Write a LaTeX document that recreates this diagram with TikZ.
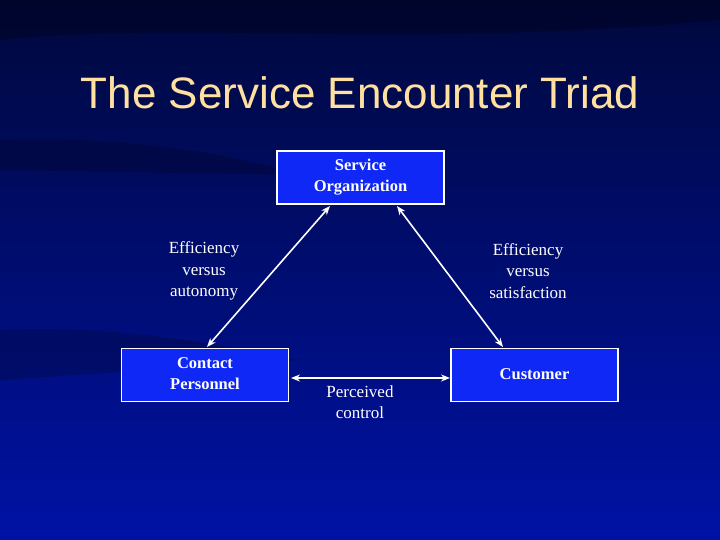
\documentclass[tikz,border=0pt]{standalone}
\usepackage{fontspec}
\usetikzlibrary{arrows.meta}
\setmainfont{Liberation Serif}
\newfontfamily\titlefont{Liberation Sans}
\begin{document}
\begin{tikzpicture}[x=1pt,y=-1pt,
  box/.style={draw=white,line width=1.5pt,fill={rgb,255:red,16;green,40;blue,245},text=white,minimum width=167pt,minimum height=53pt,inner sep=0pt},
  lbl/.style={text=white,align=center,font=\fontsize{17}{21.5}\selectfont},
  blbl/.style={lbl,font=\bfseries\fontsize{16.5}{21}\selectfont},
  conn/.style={draw=white,line width=1.6pt,{Stealth[length=9pt,width=7pt,fill=lightgray]}-{Stealth[length=9pt,width=7pt,fill=lightgray]}}]
\shade[top color={rgb,255:red,0;green,8;blue,60},bottom color={rgb,255:red,0;green,18;blue,165}] (0,0) rectangle (720,540);
\fill[black,opacity=0.25] (0,40) .. controls (200,20) and (400,50) .. (720,20) -- (720,0) -- (0,0) -- cycle;
\fill[black,opacity=0.2] (0,140) .. controls (150,135) and (250,160) .. (300,175) -- (0,170) -- cycle;
\fill[black,opacity=0.2] (0,330) .. controls (100,325) and (200,340) .. (300,360) -- (0,380) -- cycle;
\useasboundingbox (0,0) rectangle (720,540);
\node[text={rgb,255:red,255;green,224;blue,160},font=\titlefont\fontsize{44}{50}\selectfont] (title) at (360,93) {The Service Encounter Triad};
\node[box] (so) at (360.5,177.5) {};
\node[blbl,anchor=north] at (360.5,156) {Service\\Organization};
\node[box] (cp) at (205,375) {};
\node[blbl,anchor=north] at (205,354) {Contact\\Personnel};
\node[box] (cu) at (534.5,375) {};
\node[blbl,anchor=north] at (534.5,365) {Customer};
\coordinate (a1) at (330,206); \coordinate (a2) at (207,347);
\coordinate (b1) at (397,206); \coordinate (b2) at (503,347);
\coordinate (c1) at (291,378); \coordinate (c2) at (450,378);
\draw[conn] (a1) -- (a2);
\draw[conn] (b1) -- (b2);
\draw[conn] (c1) -- (c2);
\node[lbl] (ea) at (204,271) {Efficiency\\versus\\autonomy};
\node[lbl] (es) at (528,271) {Efficiency\\versus\\satisfaction};
\node[lbl] (pc) at (360,402) {Perceived\\control};
\end{tikzpicture}
\end{document}
